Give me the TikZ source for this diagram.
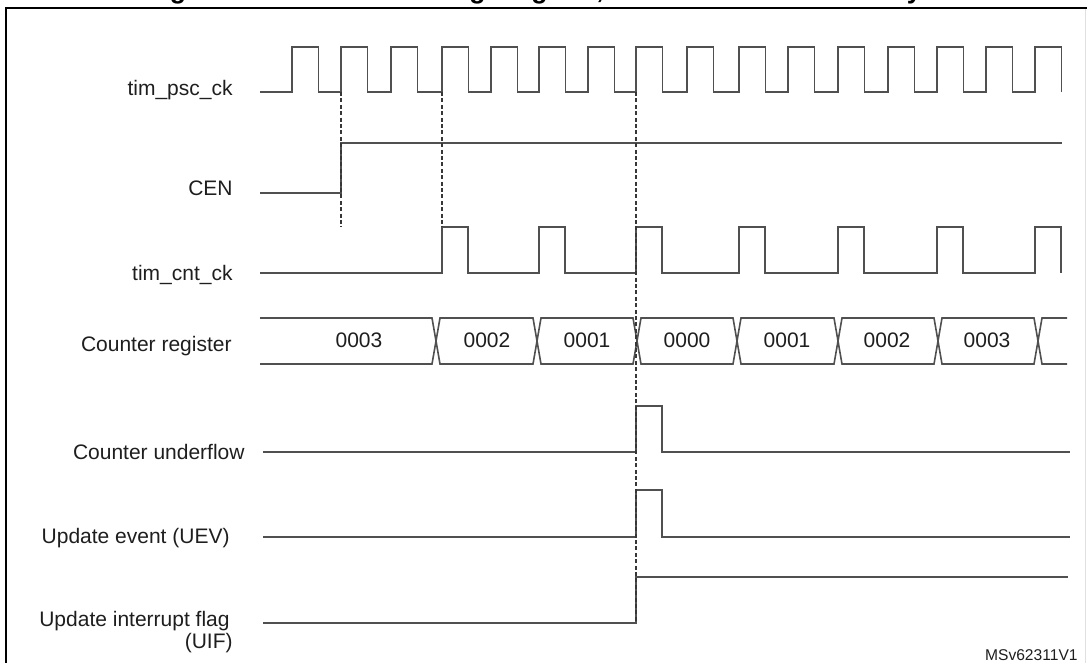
\documentclass[tikz,border=0pt]{standalone}
\usepackage{fontspec}
\setmainfont{Liberation Sans}
\usepackage{xcolor}
\definecolor{wave}{RGB}{80, 80, 80}
\definecolor{guide}{RGB}{55, 55, 55}
\definecolor{ink}{RGB}{30, 30, 30}

\tikzset{
  sig/.style={wave, line width=0.8pt},
  guideline/.style={guide, line width=0.6pt, dash pattern=on 2pt off 1.2pt},
  lbl/.style={ink, anchor=base east, inner sep=0pt, font=\fontsize{10.5}{12}\selectfont},
  val/.style={ink, anchor=base, inner sep=0pt, font=\fontsize{10.5}{12}\selectfont},
}

\begin{document}
\begin{tikzpicture}[x=0.5pt, y=-0.5pt]
      \useasboundingbox (0,0) rectangle (1087,663);

      % Title and frame, cut by the page edge
      \begin{scope}
        \clip (0,0) rectangle (1087,663);
        \node[anchor=base, inner sep=0pt, font=\bfseries\fontsize{13.3}{16}\selectfont] (title) at (545,-1)
          {Figure \phantom{000}. Counter timing diagram, internal clock divided by 2};
        \draw[line width=1.25pt] (6,700) -- (6,8) -- (1087,8);
        \draw[black!12, line width=0.6pt] (1085.5,9) -- (1085.5,663);
      \end{scope}

      % Signal names
      \foreach \n/\x/\y/\t in {psc/233/96/tim\_psc\_ck, cen/233/196/CEN, cnt/233/281/tim\_cnt\_ck,
          reg/232/351/Counter register, udf/245/459/Counter underflow, uev/230/543/Update event (UEV),
          uif/230/626/Update interrupt flag, uifb/233/648/(UIF)} {
          \node[lbl] (lbl-\n) at (\x,\y) {\t};
        }

      % Prescaler clock
      \draw[sig] (260,92) \foreach \r in {292,341,391,442,491,539,588,636,687,739,788,838,888,937,986,1035} {
          -- (\r,92) -- (\r,47) -- (\r+26.5,47) -- (\r+26.5,92) };

      % Counter enable
      \draw[sig] (260,193) -- (341,193) -- (341,143) -- (1062,143);

      % Counter clock
      \draw[sig] (260,273) \foreach \r in {442,539,636,739,838,937,1035} {
          -- (\r,273) -- (\r,227) -- (\r+26,227) -- (\r+26,273) };

      % Counter register
      \draw[sig] (260,318) -- (432,318) -- (436,341) -- (432,364) -- (260,364);
      \foreach \a/\b in {436/537, 537/637, 637/737, 737/838, 838/938, 938/1038} {
          \draw[sig] (\a,341) -- (\a+4,318) -- (\b-4,318) -- (\b,341) -- (\b-4,364) -- (\a+4,364) -- cycle;
        }
      \draw[sig] (1067,318) -- (1042,318) -- (1038,341) -- (1042,364) -- (1067,364);
      \foreach \n/\x/\v in {a/359/0003, b/487/0002, c/587/0001, d/687/0000, e/787/0001, f/887/0002, g/987/0003} {
          \node[val] (reg-\n) at (\x,348) {\v};
        }

      % Underflow, update event, interrupt flag
      \draw[sig] (263,452) -- (636,452) -- (636,406) -- (662,406) -- (662,452) -- (1070,452);
      \draw[sig] (263,537) -- (636,537) -- (636,490) -- (662,490) -- (662,537) -- (1070,537);
      \draw[sig] (263,623) -- (636,623) -- (636,577) -- (1068,577);

      % Edge guides
      \draw[guideline] (341,92) -- (341,227);
      \draw[guideline] (442,92) -- (442,227);
      \draw[guideline] (636,92) -- (636,623);

      \node[ink, anchor=base east, inner sep=0pt, font=\fontsize{7.8}{9}\selectfont] (ref) at (1078,660) {MSv62311V1};
    \end{tikzpicture}
\end{document}
